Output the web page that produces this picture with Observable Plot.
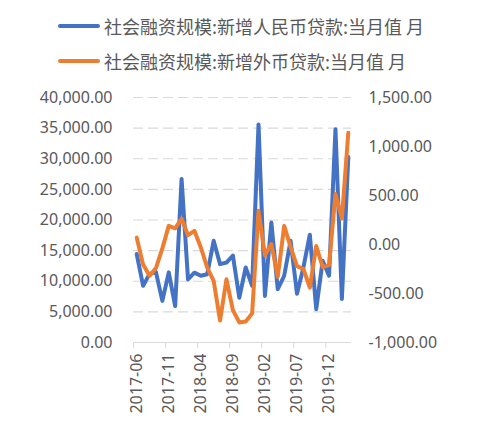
<!DOCTYPE html>
<html><head><meta charset="utf-8">
<script src="https://cdn.jsdelivr.net/npm/d3@7"></script>
<script src="https://cdn.jsdelivr.net/npm/@observablehq/plot@0.6"></script>
<style>
body{margin:0;background:#fff;width:500px;height:429px;overflow:hidden;position:relative;font-family:"Noto Sans","Noto Sans CJK SC",sans-serif;}
#legend{position:relative;height:80px;}
.item{position:absolute;left:58px;display:flex;align-items:center;font-family:"Noto Sans CJK SC",sans-serif;font-size:18px;line-height:24px;color:#595959;white-space:nowrap;}
.sw{width:42px;height:4px;border-radius:2px;margin-right:4px;}
#chart svg{display:block;}
</style></head><body>
<div id="legend"></div>
<div id="chart"></div>
<script>
const months = ["2017-06","2017-07","2017-08","2017-09","2017-10","2017-11","2017-12",
  "2018-01","2018-02","2018-03","2018-04","2018-05","2018-06","2018-07","2018-08","2018-09","2018-10","2018-11","2018-12",
  "2019-01","2019-02","2019-03","2019-04","2019-05","2019-06","2019-07","2019-08","2019-09","2019-10","2019-11","2019-12",
  "2020-01","2020-02","2020-03"];
const rmbLoans = [14450, 9250, 11200, 11500, 6800, 11450, 5950, 26700, 10300, 11400, 10900, 11150, 16600, 12800, 13050, 14200, 7300, 12250, 9250, 35600, 7600, 19600, 8700, 10900, 16600, 7950, 12250, 17600, 5450, 13350, 10900, 34800, 7100, 30300];
const fxLoans = [70, -205, -320, -240, -40, 190, 165, 265, 95, 140, -30, -235, -370, -775, -355, -670, -795, -785, -705, 344, -110, 5, -330, 190, -25, -220, -250, -440, -15, -230, -210, 515, 265, 1140];
const seriesNames = ["社会融资规模:新增人民币贷款:当月值 月", "社会融资规模:新增外币贷款:当月值 月"];
const seriesColors = ["#4472C4", "#ED7D31"];
const leftTicks = [0, 5000, 10000, 15000, 20000, 25000, 30000, 35000, 40000];
const rightTicks = [-1000, -500, 0, 500, 1000, 1500];
const xTickLabels = ["2017-06","2017-11","2018-04","2018-09","2019-02","2019-07","2019-12"];

// legend
const legend = document.getElementById("legend");
seriesNames.forEach((name, k) => {
  const it = document.createElement("div");
  it.className = "item";
  it.style.top = (14 + k * 35) + "px";
  const sw = document.createElement("span");
  sw.className = "sw";
  sw.style.background = seriesColors[k];
  const tx = document.createElement("span");
  tx.textContent = name;
  it.appendChild(sw); it.appendChild(tx);
  legend.appendChild(it);
});

// right axis mapped onto left scale
const rMin = -1000, rMax = 1500, lMax = 40000;
const toLeft = v => (v - rMin) * lMax / (rMax - rMin);
const fromLeft = v => v * (rMax - rMin) / lMax + rMin;

const rmbData = months.map((m, i) => ({x: i + 0.5, y: rmbLoans[i]}));
const fxData = months.map((m, i) => ({x: i + 0.5, y: toLeft(fxLoans[i])}));
const fmt = d => d3.format(",.2f")(d).replace("\u2212", "-");
const tickIdx = xTickLabels.map(l => months.indexOf(l));

const chart = Plot.plot({
  width: 500,
  height: 349,
  marginTop: 17,
  marginBottom: 87,
  marginLeft: 133,
  marginRight: 149,
  style: {fontFamily: '"Noto Sans", sans-serif', fontSize: "16px", color: "#595959", background: "#fff"},
  x: {type: "linear", domain: [0, months.length]},
  y: {domain: [0, 40000]},
  marks: [
    Plot.ruleY(leftTicks.filter(d => d > 0), {stroke: "#d9d9d9", strokeWidth: 1.2, strokeDasharray: "10,5"}),
    Plot.ruleY([0], {stroke: "#d9d9d9", strokeWidth: 1.2}),
    Plot.axisY({anchor: "left", ticks: leftTicks, tickFormat: d => fmt(d), tickSize: 0, tickPadding: 21, label: null, fill: "#595959"}),
    Plot.axisY({anchor: "right", ticks: rightTicks.map(toLeft), tickFormat: d => fmt(Math.round(fromLeft(d))), tickSize: 0, tickPadding: 17, label: null, fill: "#595959"}),
    Plot.axisX({anchor: "bottom", ticks: tickIdx, tickFormat: () => "", tickSize: 6, stroke: "#d9d9d9", label: null}),
    Plot.axisX({anchor: "bottom", ticks: tickIdx.map(i => i + 0.5), tickFormat: d => months[Math.round(d - 0.5)], tickSize: 0, tickPadding: 11, tickRotate: -90, label: null, fill: "#595959"}),
    Plot.line(rmbData, {x: "x", y: "y", stroke: seriesColors[0], strokeWidth: 4, strokeLinejoin: "round", strokeLinecap: "round"}),
    Plot.line(fxData, {x: "x", y: "y", stroke: seriesColors[1], strokeWidth: 4, strokeLinejoin: "round", strokeLinecap: "round"})
  ]
});
document.getElementById("chart").appendChild(chart);
</script>
</body></html>
